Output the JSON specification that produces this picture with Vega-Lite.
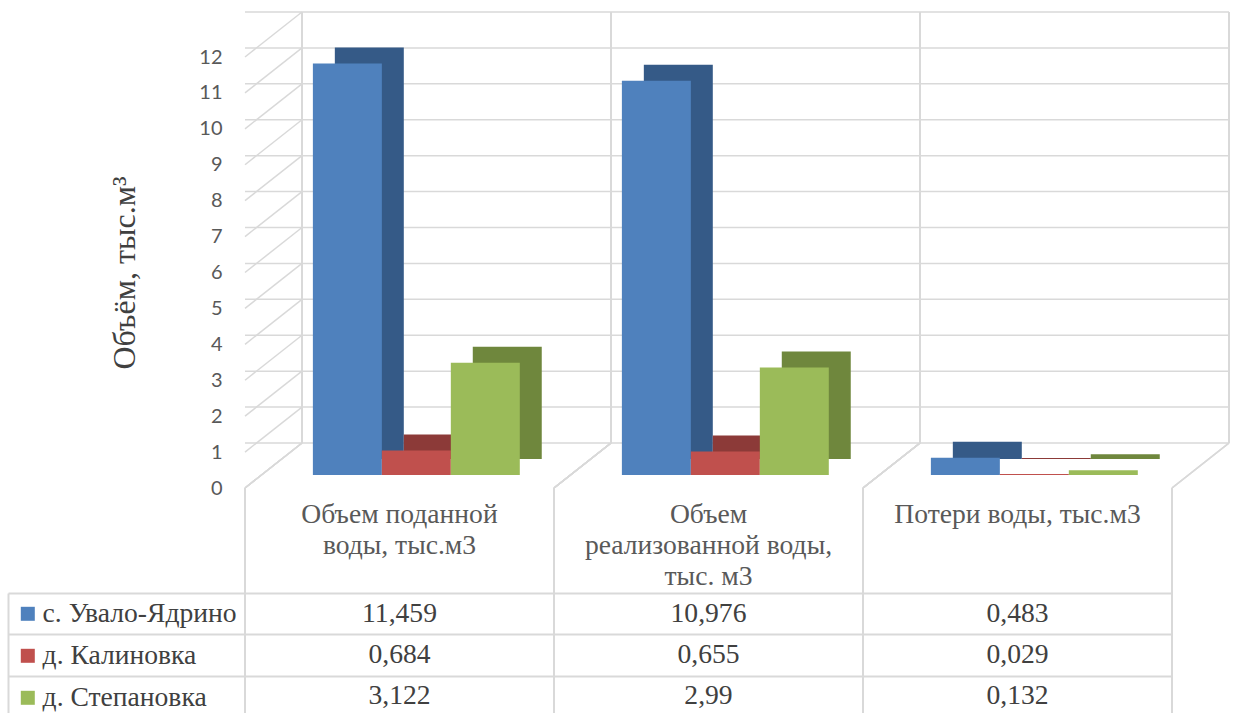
{
  "$schema": "https://vega.github.io/schema/vega-lite/v6.json",
  "width": 927,
  "height": 431,
  "autosize": {"type": "none"},
  "padding": {"left": 245, "top": 57, "right": 61, "bottom": 225},
  "background": "white",
  "config": {
    "font": "Liberation Serif",
    "view": {"stroke": null},
    "locale": {"number": {"decimal": ",", "thousands": " ", "grouping": [3], "currency": ["", " ₽"]}}
  },
  "datasets": {
    "supply": [
      {"indicator": "Объем поданной воды, тыс.м3", "settlement": "с. Увало-Ядрино", "volume": 11.459},
      {"indicator": "Объем поданной воды, тыс.м3", "settlement": "д. Калиновка", "volume": 0.684},
      {"indicator": "Объем поданной воды, тыс.м3", "settlement": "д. Степановка", "volume": 3.122},
      {"indicator": "Объем реализованной воды, тыс. м3", "settlement": "с. Увало-Ядрино", "volume": 10.976},
      {"indicator": "Объем реализованной воды, тыс. м3", "settlement": "д. Калиновка", "volume": 0.655},
      {"indicator": "Объем реализованной воды, тыс. м3", "settlement": "д. Степановка", "volume": 2.99},
      {"indicator": "Потери воды, тыс.м3", "settlement": "с. Увало-Ядрино", "volume": 0.483},
      {"indicator": "Потери воды, тыс.м3", "settlement": "д. Калиновка", "volume": 0.029},
      {"indicator": "Потери воды, тыс.м3", "settlement": "д. Степановка", "volume": 0.132}
    ],
    "levels": [
      {"level": 0}, {"level": 1}, {"level": 2}, {"level": 3}, {"level": 4}, {"level": 5}, {"level": 6},
      {"level": 7}, {"level": 8}, {"level": 9}, {"level": 10}, {"level": 11}, {"level": 12}
    ]
  },
  "data": {"name": "supply"},
  "resolve": {"scale": {"y": "independent", "color": "independent", "xOffset": "independent"}},
  "layer": [
    {
      "data": {"name": "levels"},
      "mark": {"type": "rule", "color": "#d9d9d9", "strokeWidth": 1.5, "xOffset": 57, "x2Offset": 57, "yOffset": -45},
      "encoding": {
        "y": {"field": "level", "type": "quantitative", "scale": {"domain": [0, 12], "nice": false}, "axis": null}
      }
    },
    {
      "data": {"name": "levels"},
      "mark": {"type": "rule", "color": "#d9d9d9", "strokeWidth": 1.5, "x2Offset": 57, "y2Offset": -45},
      "encoding": {
        "x": {"datum": "Объем поданной воды, тыс.м3", "type": "nominal", "bandPosition": 0,
              "scale": {"type": "band", "domain": ["Объем поданной воды, тыс.м3", "Объем реализованной воды, тыс. м3", "Потери воды, тыс.м3"], "paddingInner": 0, "paddingOuter": 0}},
        "x2": {"datum": "Объем поданной воды, тыс.м3", "bandPosition": 0},
        "y": {"field": "level", "type": "quantitative", "scale": {"domain": [0, 12], "nice": false}, "axis": null},
        "y2": {"field": "level"}
      }
    },
    {
      "mark": {"type": "rule", "color": "#d9d9d9", "strokeWidth": 1.5, "xOffset": 57, "yOffset": -45, "y2Offset": -45},
      "encoding": {
        "x": {"field": "indicator", "type": "nominal", "bandPosition": 0,
              "scale": {"type": "band", "domain": ["Объем поданной воды, тыс.м3", "Объем реализованной воды, тыс. м3", "Потери воды, тыс.м3"], "paddingInner": 0, "paddingOuter": 0}},
        "y": {"datum": 12, "type": "quantitative", "scale": {"domain": [0, 12], "nice": false}, "axis": null},
        "y2": {"datum": 0}
      }
    },
    {
      "mark": {"type": "rule", "color": "#d9d9d9", "strokeWidth": 1.5, "xOffset": 57, "yOffset": -45, "y2Offset": -45},
      "encoding": {
        "x": {"field": "indicator", "type": "nominal", "bandPosition": 1,
              "scale": {"type": "band", "domain": ["Объем поданной воды, тыс.м3", "Объем реализованной воды, тыс. м3", "Потери воды, тыс.м3"], "paddingInner": 0, "paddingOuter": 0}},
        "y": {"datum": 12, "type": "quantitative", "scale": {"domain": [0, 12], "nice": false}, "axis": null},
        "y2": {"datum": 0}
      }
    },
    {
      "mark": {"type": "rule", "color": "#d9d9d9", "strokeWidth": 1.5, "x2Offset": 57, "y2Offset": -45},
      "encoding": {
        "x": {"field": "indicator", "type": "nominal", "bandPosition": 0,
              "scale": {"type": "band", "domain": ["Объем поданной воды, тыс.м3", "Объем реализованной воды, тыс. м3", "Потери воды, тыс.м3"], "paddingInner": 0, "paddingOuter": 0}},
        "x2": {"field": "indicator", "bandPosition": 0},
        "y": {"datum": 0, "type": "quantitative", "scale": {"domain": [0, 12], "nice": false}, "axis": null},
        "y2": {"datum": 0}
      }
    },
    {
      "mark": {"type": "rule", "color": "#d9d9d9", "strokeWidth": 1.5, "x2Offset": 57, "y2Offset": -45},
      "encoding": {
        "x": {"field": "indicator", "type": "nominal", "bandPosition": 1,
              "scale": {"type": "band", "domain": ["Объем поданной воды, тыс.м3", "Объем реализованной воды, тыс. м3", "Потери воды, тыс.м3"], "paddingInner": 0, "paddingOuter": 0}},
        "x2": {"field": "indicator", "bandPosition": 1},
        "y": {"datum": 0, "type": "quantitative", "scale": {"domain": [0, 12], "nice": false}, "axis": null},
        "y2": {"datum": 0}
      }
    },
    {
      "mark": {"type": "rule", "color": "#d9d9d9", "strokeWidth": 2},
      "encoding": {
        "x": {"field": "indicator", "type": "nominal", "bandPosition": 0,
              "scale": {"type": "band", "domain": ["Объем поданной воды, тыс.м3", "Объем реализованной воды, тыс. м3", "Потери воды, тыс.м3"], "paddingInner": 0, "paddingOuter": 0}},
        "y": {"datum": 0, "type": "quantitative", "scale": {"domain": [0, 12], "nice": false}, "axis": null},
        "y2": {"datum": -6.6}
      }
    },
    {
      "mark": {"type": "rule", "color": "#d9d9d9", "strokeWidth": 2},
      "encoding": {
        "x": {"field": "indicator", "type": "nominal", "bandPosition": 1,
              "scale": {"type": "band", "domain": ["Объем поданной воды, тыс.м3", "Объем реализованной воды, тыс. м3", "Потери воды, тыс.м3"], "paddingInner": 0, "paddingOuter": 0}},
        "y": {"datum": 0, "type": "quantitative", "scale": {"domain": [0, 12], "nice": false}, "axis": null},
        "y2": {"datum": -6.6}
      }
    },
    {
      "mark": {"type": "bar", "yOffset": -29, "y2Offset": -29},
      "encoding": {
        "x": {"field": "indicator", "type": "nominal",
              "scale": {"type": "band", "domain": ["Объем поданной воды, тыс.м3", "Объем реализованной воды, тыс. м3", "Потери воды, тыс.м3"], "paddingInner": 0, "paddingOuter": 0}},
        "xOffset": {"field": "settlement", "type": "nominal",
                    "scale": {"domain": ["с. Увало-Ядрино", "д. Калиновка", "д. Степановка"], "paddingInner": 0, "paddingOuter": 0.74, "align": 0.88}},
        "y": {"field": "volume", "type": "quantitative", "scale": {"domain": [0, 12], "nice": false}, "axis": null},
        "color": {"field": "settlement", "type": "nominal",
                  "scale": {"domain": ["с. Увало-Ядрино", "д. Калиновка", "д. Степановка"], "range": ["#355a87", "#8c3a38", "#6f873d"]},
                  "legend": null}
      }
    },
    {
      "mark": {"type": "bar", "yOffset": -13, "y2Offset": -13},
      "encoding": {
        "x": {"field": "indicator", "type": "nominal",
              "scale": {"type": "band", "domain": ["Объем поданной воды, тыс.м3", "Объем реализованной воды, тыс. м3", "Потери воды, тыс.м3"], "paddingInner": 0, "paddingOuter": 0},
              "axis": {
                "orient": "bottom", "title": null, "domain": false, "grid": false, "ticks": false, "tickSize": 0,
                "labelFont": "Liberation Serif", "labelFontSize": 27.6, "labelColor": "#595959",
                "labelAngle": 0, "labelAlign": "center", "labelBaseline": "alphabetic", "labelPadding": 34, "labelLineHeight": 31, "labelLimit": 400,
                "labelExpr": "datum.label == 'Объем поданной воды, тыс.м3' ? ['Объем поданной', 'воды, тыс.м3'] : datum.label == 'Объем реализованной воды, тыс. м3' ? ['Объем', 'реализованной воды,', 'тыс. м3'] : datum.label"
              }},
        "xOffset": {"field": "settlement", "type": "nominal",
                    "scale": {"domain": ["с. Увало-Ядрино", "д. Калиновка", "д. Степановка"], "paddingInner": 0, "paddingOuter": 0.74, "align": 0.665}},
        "y": {"field": "volume", "type": "quantitative", "scale": {"domain": [0, 12], "nice": false},
              "axis": {
                "orient": "left", "values": [0, 1, 2, 3, 4, 5, 6, 7, 8, 9, 10, 11, 12],
                "grid": false, "domain": false, "ticks": false, "tickSize": 0,
                "labelFont": "Lato", "labelFontSize": 20, "labelColor": "#595959", "labelPadding": 23,
                "title": "Объём, тыс.м³", "titleFont": "Liberation Serif", "titleFontSize": 32,
                "titleFontWeight": "normal", "titleColor": "#404040", "titlePadding": 57
              }},
        "color": {"field": "settlement", "type": "nominal",
                  "scale": {"domain": ["с. Увало-Ядрино", "д. Калиновка", "д. Степановка"], "range": ["#4f81bd", "#c0504d", "#9bbb59"]},
                  "legend": {
                    "orient": "none", "legendX": -231, "legendY": 543, "direction": "vertical", "title": null,
                    "symbolType": "square", "symbolSize": 196, "symbolStrokeWidth": 0,
                    "labelFont": "Liberation Serif", "labelFontSize": 27.6, "labelColor": "#404040",
                    "labelOffset": 1, "labelLimit": 400, "rowPadding": 13, "padding": 0
                  }}
      }
    },
    {
      "mark": {"type": "text", "font": "Liberation Serif", "fontSize": 27.6, "color": "#404040"},
      "encoding": {
        "x": {"field": "indicator", "type": "nominal",
              "scale": {"type": "band", "domain": ["Объем поданной воды, тыс.м3", "Объем реализованной воды, тыс. м3", "Потери воды, тыс.м3"], "paddingInner": 0, "paddingOuter": 0}},
        "y": {"field": "settlement", "type": "nominal",
              "scale": {"type": "band", "domain": ["с. Увало-Ядрино", "д. Калиновка", "д. Степановка"], "range": [536, 660], "paddingInner": 0, "paddingOuter": 0},
              "axis": {
                "orient": "left", "offset": 237, "title": null, "labels": false,
                "domain": true, "domainColor": "#d9d9d9", "domainWidth": 2,
                "ticks": true, "tickBand": "extent", "tickSize": -237, "tickColor": "#d9d9d9", "tickWidth": 2,
                "grid": true, "gridColor": "#d9d9d9", "gridWidth": 2
              }},
        "text": {"field": "volume", "type": "quantitative", "format": ".3~f"}
      }
    }
  ]
}
